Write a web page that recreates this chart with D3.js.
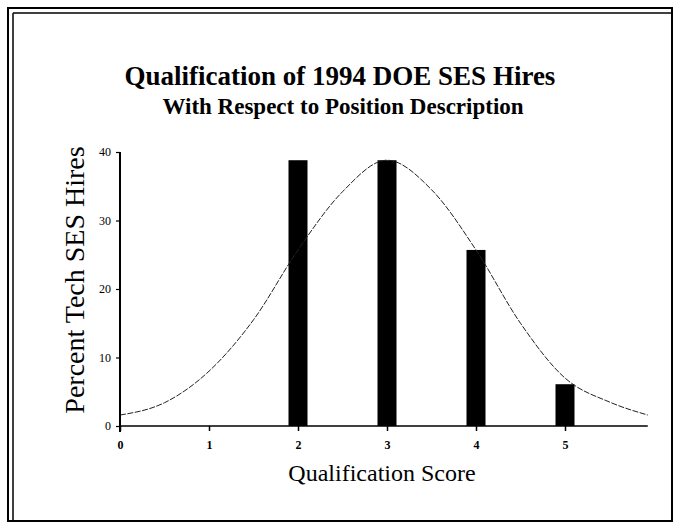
<!DOCTYPE html>
<html>
<head>
<meta charset="utf-8">
<script src="https://cdn.jsdelivr.net/npm/d3@7"></script>
<style>
  html, body { margin: 0; padding: 0; background: #fff; }
  svg { display: block; }
  text { font-family: "Liberation Serif", "DejaVu Serif", serif; fill: #000; }
</style>
</head>
<body>
<svg id="chart" width="680" height="524"></svg>
<script>
// ---- data ----
const scores = [2, 3, 4, 5];
const percents = [38.8, 38.8, 25.7, 6.1];
const curveScores = [0, 0.5, 1, 1.5, 2, 2.5, 3, 3.5, 4, 4.5, 5, 5.5, 5.93];
const curvePercents = [1.6, 3.4, 8.0, 15.5, 25.7, 34.2, 38.8, 34.5, 25.7, 15.0, 7.0, 3.5, 1.6];
const xTicks = [0, 1, 2, 3, 4, 5];
const yTicks = [0, 10, 20, 30, 40];
const titleText = "Qualification of 1994 DOE SES Hires";
const subtitleText = "With Respect to Position Description";
const xLabel = "Qualification Score";
const yLabel = "Percent Tech SES Hires";

const svg = d3.select("#chart");

// frame (double line at left/top)
svg.append("rect").attr("x", 8).attr("y", 8).attr("width", 664).attr("height", 513)
  .attr("fill", "none").attr("stroke", "#000").attr("stroke-width", 2);
svg.append("line").attr("x1", 13).attr("x2", 13).attr("y1", 13).attr("y2", 521)
  .attr("stroke", "#000").attr("stroke-width", 1.5);
svg.append("line").attr("x1", 13).attr("x2", 672).attr("y1", 13).attr("y2", 13)
  .attr("stroke", "#000").attr("stroke-width", 1.5);

// scales
const x = d3.scaleLinear().domain([0, 5]).range([120, 565]);
const y = d3.scaleLinear().domain([0, 40]).range([426, 152]);

// titles
svg.append("text").attr("x", 340).attr("y", 85).attr("text-anchor", "middle")
  .attr("font-size", 27).attr("font-weight", "bold").text(titleText);
svg.append("text").attr("x", 343).attr("y", 114).attr("text-anchor", "middle")
  .attr("font-size", 23).attr("font-weight", "bold").text(subtitleText);

// bars
const barW = 19;
svg.append("g").selectAll("rect").data(scores).join("rect")
  .attr("x", (d) => x(d) - barW / 2)
  .attr("y", (d, i) => y(percents[i]))
  .attr("width", barW)
  .attr("height", (d, i) => y(0) - y(percents[i]))
  .attr("fill", "#000");

// curve
const pts = curveScores.map((d, i) => [d, curvePercents[i]]);
svg.append("path").datum(pts)
  .attr("d", d3.line().x((d) => x(d[0])).y((d) => y(d[1])).curve(d3.curveMonotoneX))
  .attr("fill", "none").attr("stroke", "#222").attr("stroke-width", 1)
  .attr("stroke-dasharray", "6,1.5");

// x axis
const xAxis = svg.append("g").attr("transform", `translate(0,${y(0)})`)
  .call(d3.axisBottom(x).tickValues(xTicks).tickFormat(d3.format("d")).tickSize(5).tickPadding(9));
xAxis.select(".domain").remove();
xAxis.append("line").attr("x1", x(0)).attr("x2", x(5.93)).attr("y1", 0).attr("y2", 0)
  .attr("stroke", "#000").attr("stroke-width", 1.5);
xAxis.selectAll(".tick line").attr("stroke", "#000").attr("stroke-width", 1.5);
xAxis.selectAll(".tick text").attr("font-size", 12).attr("font-weight", "bold")
  .style("font-family", "Liberation Serif, serif");

// y axis
const yAxis = svg.append("g").attr("transform", `translate(${x(0)},0)`)
  .call(d3.axisLeft(y).tickValues(yTicks).tickFormat(d3.format("d")).tickSize(4).tickPadding(5));
yAxis.select(".domain").remove();
yAxis.append("line").attr("x1", 0).attr("x2", 0).attr("y1", y(40)).attr("y2", y(0) + 6)
  .attr("stroke", "#000").attr("stroke-width", 2);
yAxis.selectAll(".tick line").attr("stroke", "#000").attr("stroke-width", 1.2);
yAxis.selectAll(".tick text").attr("font-size", 12)
  .style("font-family", "Liberation Serif, serif");

// axis labels
svg.append("text").attr("x", 382).attr("y", 481).attr("text-anchor", "middle")
  .attr("font-size", 24).text(xLabel);
svg.append("text").attr("transform", `translate(84,280) rotate(-90)`)
  .attr("text-anchor", "middle").attr("font-size", 28).text(yLabel);
</script>
</body>
</html>
